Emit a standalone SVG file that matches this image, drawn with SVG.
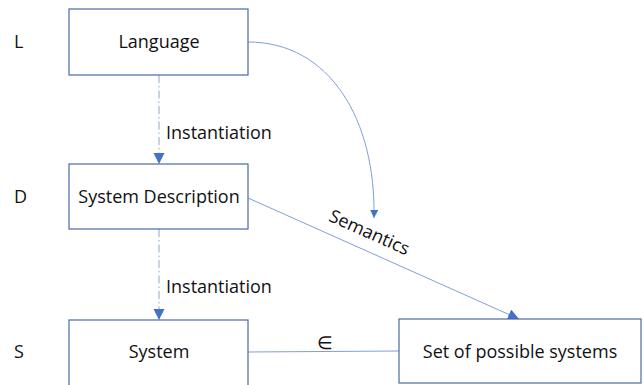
<svg xmlns="http://www.w3.org/2000/svg" width="644" height="385" viewBox="0 0 644 385">
<defs>
<style>
.box{fill:#fff;stroke:#4a6aa5;stroke-width:1.2}
.t{font-family:"Open Sans","Liberation Sans",sans-serif;font-size:18px;fill:#111}
.c{text-anchor:middle}
.conn{fill:none;stroke:#7f9fd6;stroke-width:1}
.dash{stroke-dasharray:8 3 1.5 3;stroke:#8fa6cc}
</style>
<marker id="ah" markerWidth="12" markerHeight="12" refX="11" refY="5.5" orient="auto" markerUnits="userSpaceOnUse">
<path d="M0,0 L11,5.5 L0,11 Z" fill="#4472c4"/>
</marker>
<marker id="ahs" markerWidth="10" markerHeight="10" refX="8" refY="4" orient="auto" markerUnits="userSpaceOnUse">
<path d="M0,0 L8,4 L0,8 Z" fill="#4472c4"/>
</marker>
</defs>
<rect width="644" height="385" fill="#fff"/>
<g id="levels">
<text class="t" x="14" y="48">L</text>
<text class="t" x="14" y="203">D</text>
<text class="t" x="14" y="358">S</text>
</g>
<g id="connectors">
<line class="conn dash" x1="159" y1="75" x2="159" y2="164" marker-end="url(#ah)"/>
<line class="conn dash" x1="159" y1="229" x2="159" y2="320" marker-end="url(#ah)"/>
<path class="conn" d="M248,42 C330,42 376,120 374,218" marker-end="url(#ahs)"/>
<line class="conn" x1="248" y1="198" x2="519" y2="319" marker-end="url(#ah)"/>
<line class="conn" x1="248" y1="352" x2="399" y2="351"/>
<text class="t" x="166" y="139">Instantiation</text>
<text class="t" x="166" y="293">Instantiation</text>
<text class="t c" x="367" y="238" transform="rotate(24 367 238)">Semantics</text>
<text class="t c" x="325" y="349">∈</text>
</g>
<g id="language">
<rect class="box" x="69" y="9" width="179" height="66"/>
<text class="t c" x="159" y="48">Language</text>
</g>
<g id="system-description">
<rect class="box" x="69" y="164" width="179" height="65"/>
<text class="t c" x="159" y="203">System Description</text>
</g>
<g id="system">
<rect class="box" x="69" y="320" width="179" height="70"/>
<text class="t c" x="159" y="358">System</text>
</g>
<g id="set">
<rect class="box" x="399" y="319" width="242" height="64"/>
<text class="t c" x="520" y="358">Set of possible systems</text>
</g>
</svg>
